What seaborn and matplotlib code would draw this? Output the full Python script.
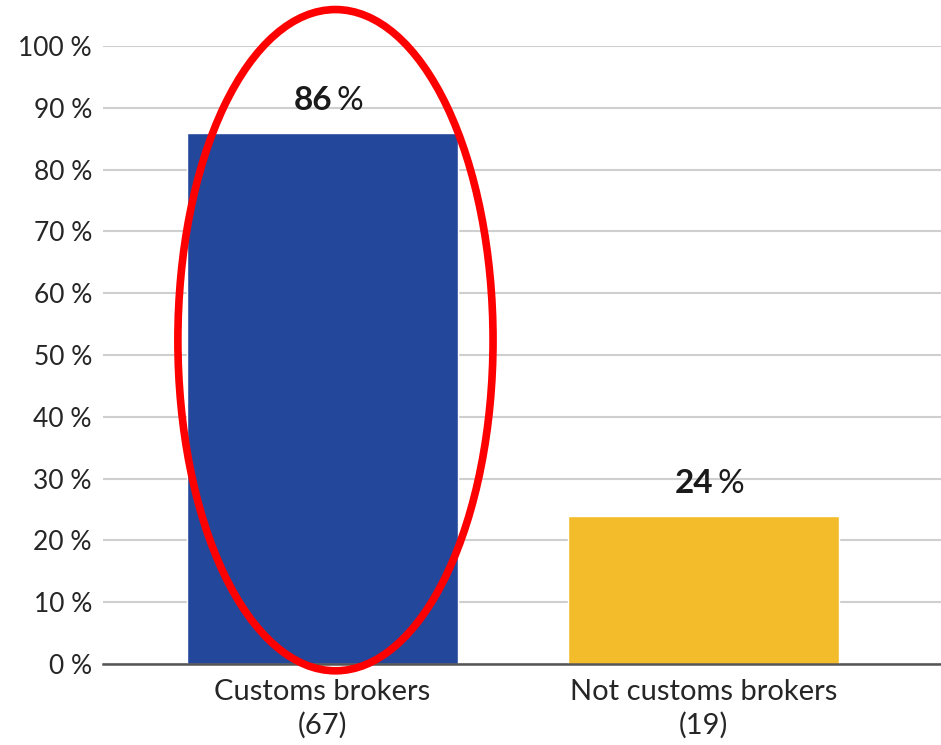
import pandas as pd
import seaborn as sns
import matplotlib.pyplot as plt
from matplotlib.patches import Ellipse

sns.set_theme(style="white")
plt.rcParams['font.family'] = ['Lato', 'DejaVu Sans']

# Data
groups = ['Customs brokers\n(67)', 'Not customs brokers\n(19)']
shares = [86, 24]
bar_colors = ['#23479A', '#F2BC2B']
ticks = list(range(0, 101, 10))
tick_labels = [f'{t} %' for t in ticks]

df = pd.DataFrame({'group': groups, 'share': shares})

fig = plt.figure(figsize=(9.41, 7.45), dpi=100)
ax = fig.add_axes([103 / 941, 81 / 745, 1 - 103 / 941, 618 / 745])

sns.barplot(data=df, x='group', y='share', hue='group', palette=bar_colors,
            legend=False, width=0.71, saturation=1, ax=ax, zorder=3)

ax.set_ylim(0, 100)
ax.set_xlim(-0.576, 1.623)
ax.set_yticks(ticks)
ax.set_yticklabels(tick_labels)
ax.set_xlabel('')
ax.set_ylabel('')
ax.tick_params(axis='y', length=0, pad=8, labelsize=19, labelcolor='#262626')
ax.tick_params(axis='x', length=0, pad=11, labelsize=21, labelcolor='#262626')
for lab in ax.get_xticklabels():
    lab.set_linespacing(1.3)
ax.grid(axis='y', color='#cfcfcf', linewidth=1.5, zorder=0)
for s in ['top', 'right', 'left']:
    ax.spines[s].set_visible(False)
ax.spines['bottom'].set_color('#555555')
ax.spines['bottom'].set_linewidth(1.8)
ax.spines['bottom'].set_zorder(4)

# value labels: bold number, lighter percent sign
for i, v in enumerate(shares):
    ax.annotate(str(v), xy=(i, v), xytext=(7, 16), textcoords='offset points',
                ha='right', va='baseline', fontsize=24, fontweight='bold',
                color='#1a1a1a')
    ax.annotate('%', xy=(i, v), xytext=(10, 16), textcoords='offset points',
                ha='left', va='baseline', fontsize=24, color='#1a1a1a')

# red highlight ring around the first bar
ring = Ellipse((0.034, 52.4), 0.827, 107, fill=False, edgecolor='#ff0000',
               linewidth=5.5, zorder=5, clip_on=False)
ax.add_patch(ring)

fig.savefig('out.png', dpi=100)
